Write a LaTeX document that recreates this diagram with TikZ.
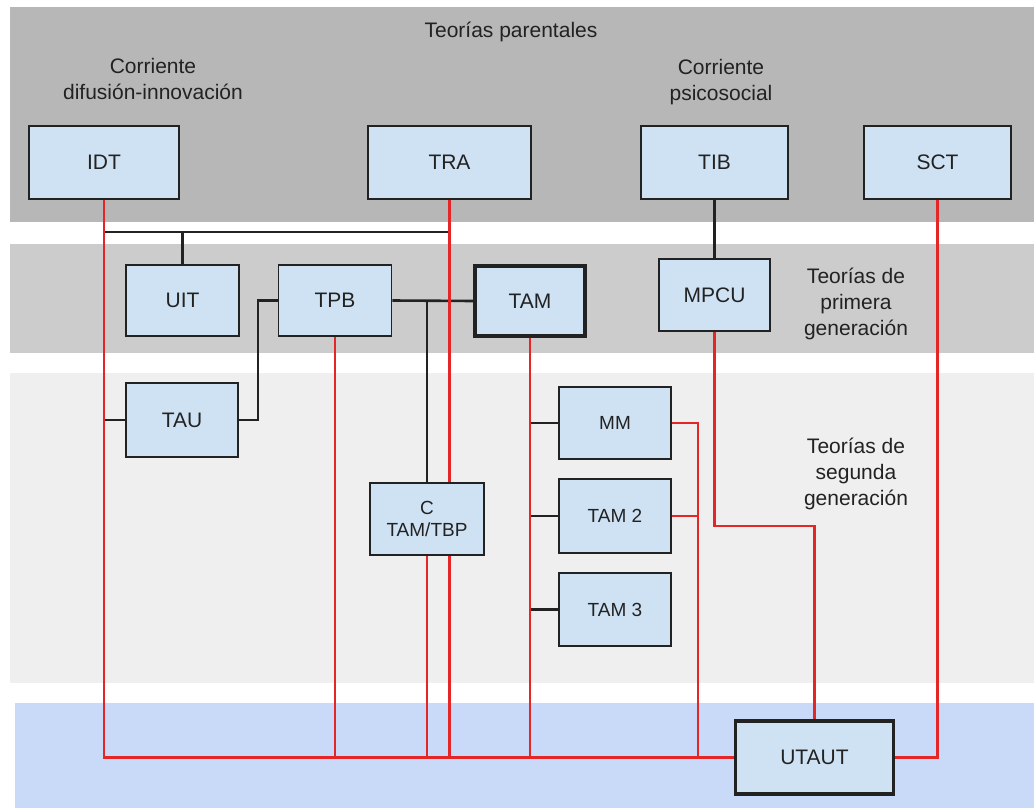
\documentclass[tikz,border=0pt]{standalone}
\usepackage{fontspec}
\setmainfont{Liberation Sans}
\usetikzlibrary{calc}
\definecolor{bandA}{RGB}{183,183,183}
\definecolor{bandB}{RGB}{204,204,204}
\definecolor{bandC}{RGB}{239,239,239}
\definecolor{bandD}{RGB}{201,218,248}
\definecolor{boxfill}{RGB}{207,226,243}
\definecolor{linkred}{RGB}{228,38,38}
\definecolor{ink}{RGB}{34,34,34}
\begin{document}
\begin{tikzpicture}[x=1pt,y=-1pt,
    box/.style={draw=ink,fill=boxfill,line width=1.8pt,inner sep=0pt,text=ink,
      font=\fontsize{21}{26}\selectfont,align=center},
    small/.style={font=\fontsize{19}{22}\selectfont},
    mainbox/.style={line width=3.6pt},
    bandtext/.style={text=ink,font=\fontsize{21}{26}\selectfont,align=center},
    blackline/.style={draw=ink,line width=2.6pt},
    redline/.style={draw=linkred,line width=2.6pt}]
      \useasboundingbox (0,0) rectangle (1034,808);
      % bands
      \fill[bandA] (10,7) rectangle (1034,222);
      \fill[bandB] (10,244) rectangle (1034,353);
      \fill[bandC] (10,373) rectangle (1034,683);
      \fill[bandD] (15,703) rectangle (1034,808);
      \node[bandtext] (parent) at (511,32) {Teorías parentales};
      \node[bandtext] (difus) at (153,79) {Corriente\\difusión-innovación};
      \node[bandtext] (psico) at (721,82) {Corriente\\psicosocial};
      \node[bandtext] (first) at (856,304) {Teorías de\\primera\\generación};
      \node[bandtext] (second) at (856,474) {Teorías de\\segunda\\generación};
      % parent theories
      \node[box,minimum width=150,minimum height=73] (idt) at (104,162.5) {IDT};
      \node[box,minimum width=163,minimum height=73] (tra) at (449.5,162.5) {TRA};
      \node[box,minimum width=147,minimum height=73] (tib) at (714.5,162.5) {TIB};
      \node[box,minimum width=147,minimum height=73] (sct) at (937.5,162.5) {SCT};
      % first generation
      \node[box,minimum width=113,minimum height=71] (uit) at (182.5,300.5) {UIT};
      \node[box,minimum width=113,minimum height=71] (tpb) at (335,300.5) {TPB};
      \node[box,mainbox,minimum width=110,minimum height=70] (tam) at (530,301) {TAM};
      \node[box,minimum width=111,minimum height=72] (mpcu) at (714.5,295) {MPCU};
      % second generation
      \node[box,minimum width=112,minimum height=74] (tau) at (182,420) {TAU};
      \node[box,small,minimum width=114,minimum height=72] (ctb) at (427,519) {C\\TAM/TBP};
      \node[box,small,minimum width=112,minimum height=72] (mm) at (615,423) {MM};
      \node[box,small,minimum width=112,minimum height=74] (tamtwo) at (615,516) {TAM 2};
      \node[box,small,minimum width=112,minimum height=73] (tamthree) at (615,609.5) {TAM 3};
      \node[box,mainbox,minimum width=158,minimum height=73] (utaut) at (814.5,757.5) {UTAUT};
      \coordinate (split) at (0,232);
      \coordinate (tauturn) at (258,420);
      \coordinate (mmturn) at (698,423);
      \coordinate (mpturn) at (814.5,526);
      % black links
      \draw[blackline] (idt.south |- split) -- (tra.south |- split);
      \draw[blackline] (uit.north) -- (uit.north |- split);
      \draw[blackline] (tau.west) -- (tau.west -| idt.south);
      \draw[blackline] (tau.east) -- (tauturn) |- (tpb.west);
      \draw[blackline] (tpb.east) -- (tam.west);
      \draw[blackline] (ctb.north) -- (ctb.north |- tpb.east);
      \draw[blackline] (tam.south) -- (tam.south |- tamthree.west) -- (tamthree.west);
      \draw[blackline] (mm.west) -- (mm.west -| tam.south);
      \draw[blackline] (tamtwo.west) -- (tamtwo.west -| tam.south);
      \draw[blackline] (tib.south) -- (mpcu.north);
      % red links to UTAUT
      \draw[redline] (idt.south) |- (utaut.west);
      \draw[redline] (tra.south) -- (tra.south |- ctb.north);
      \draw[redline] (tra.south |- ctb.south) -- (tra.south |- utaut.west);
      \draw[redline] (tpb.south) -- (tpb.south |- utaut.west);
      \draw[redline] (ctb.south) -- (ctb.south |- utaut.west);
      \draw[redline] (tam.south) -- (tam.south |- utaut.west);
      \draw[redline] (mm.east) -- (mmturn) -- (mmturn |- utaut.west);
      \draw[redline] (tamtwo.east) -- (tamtwo.east -| mmturn);
      \draw[redline] (mpcu.south) |- (mpturn) -- (utaut.north);
      \draw[redline] (sct.south) |- (utaut.east);
    \end{tikzpicture}
\end{document}
